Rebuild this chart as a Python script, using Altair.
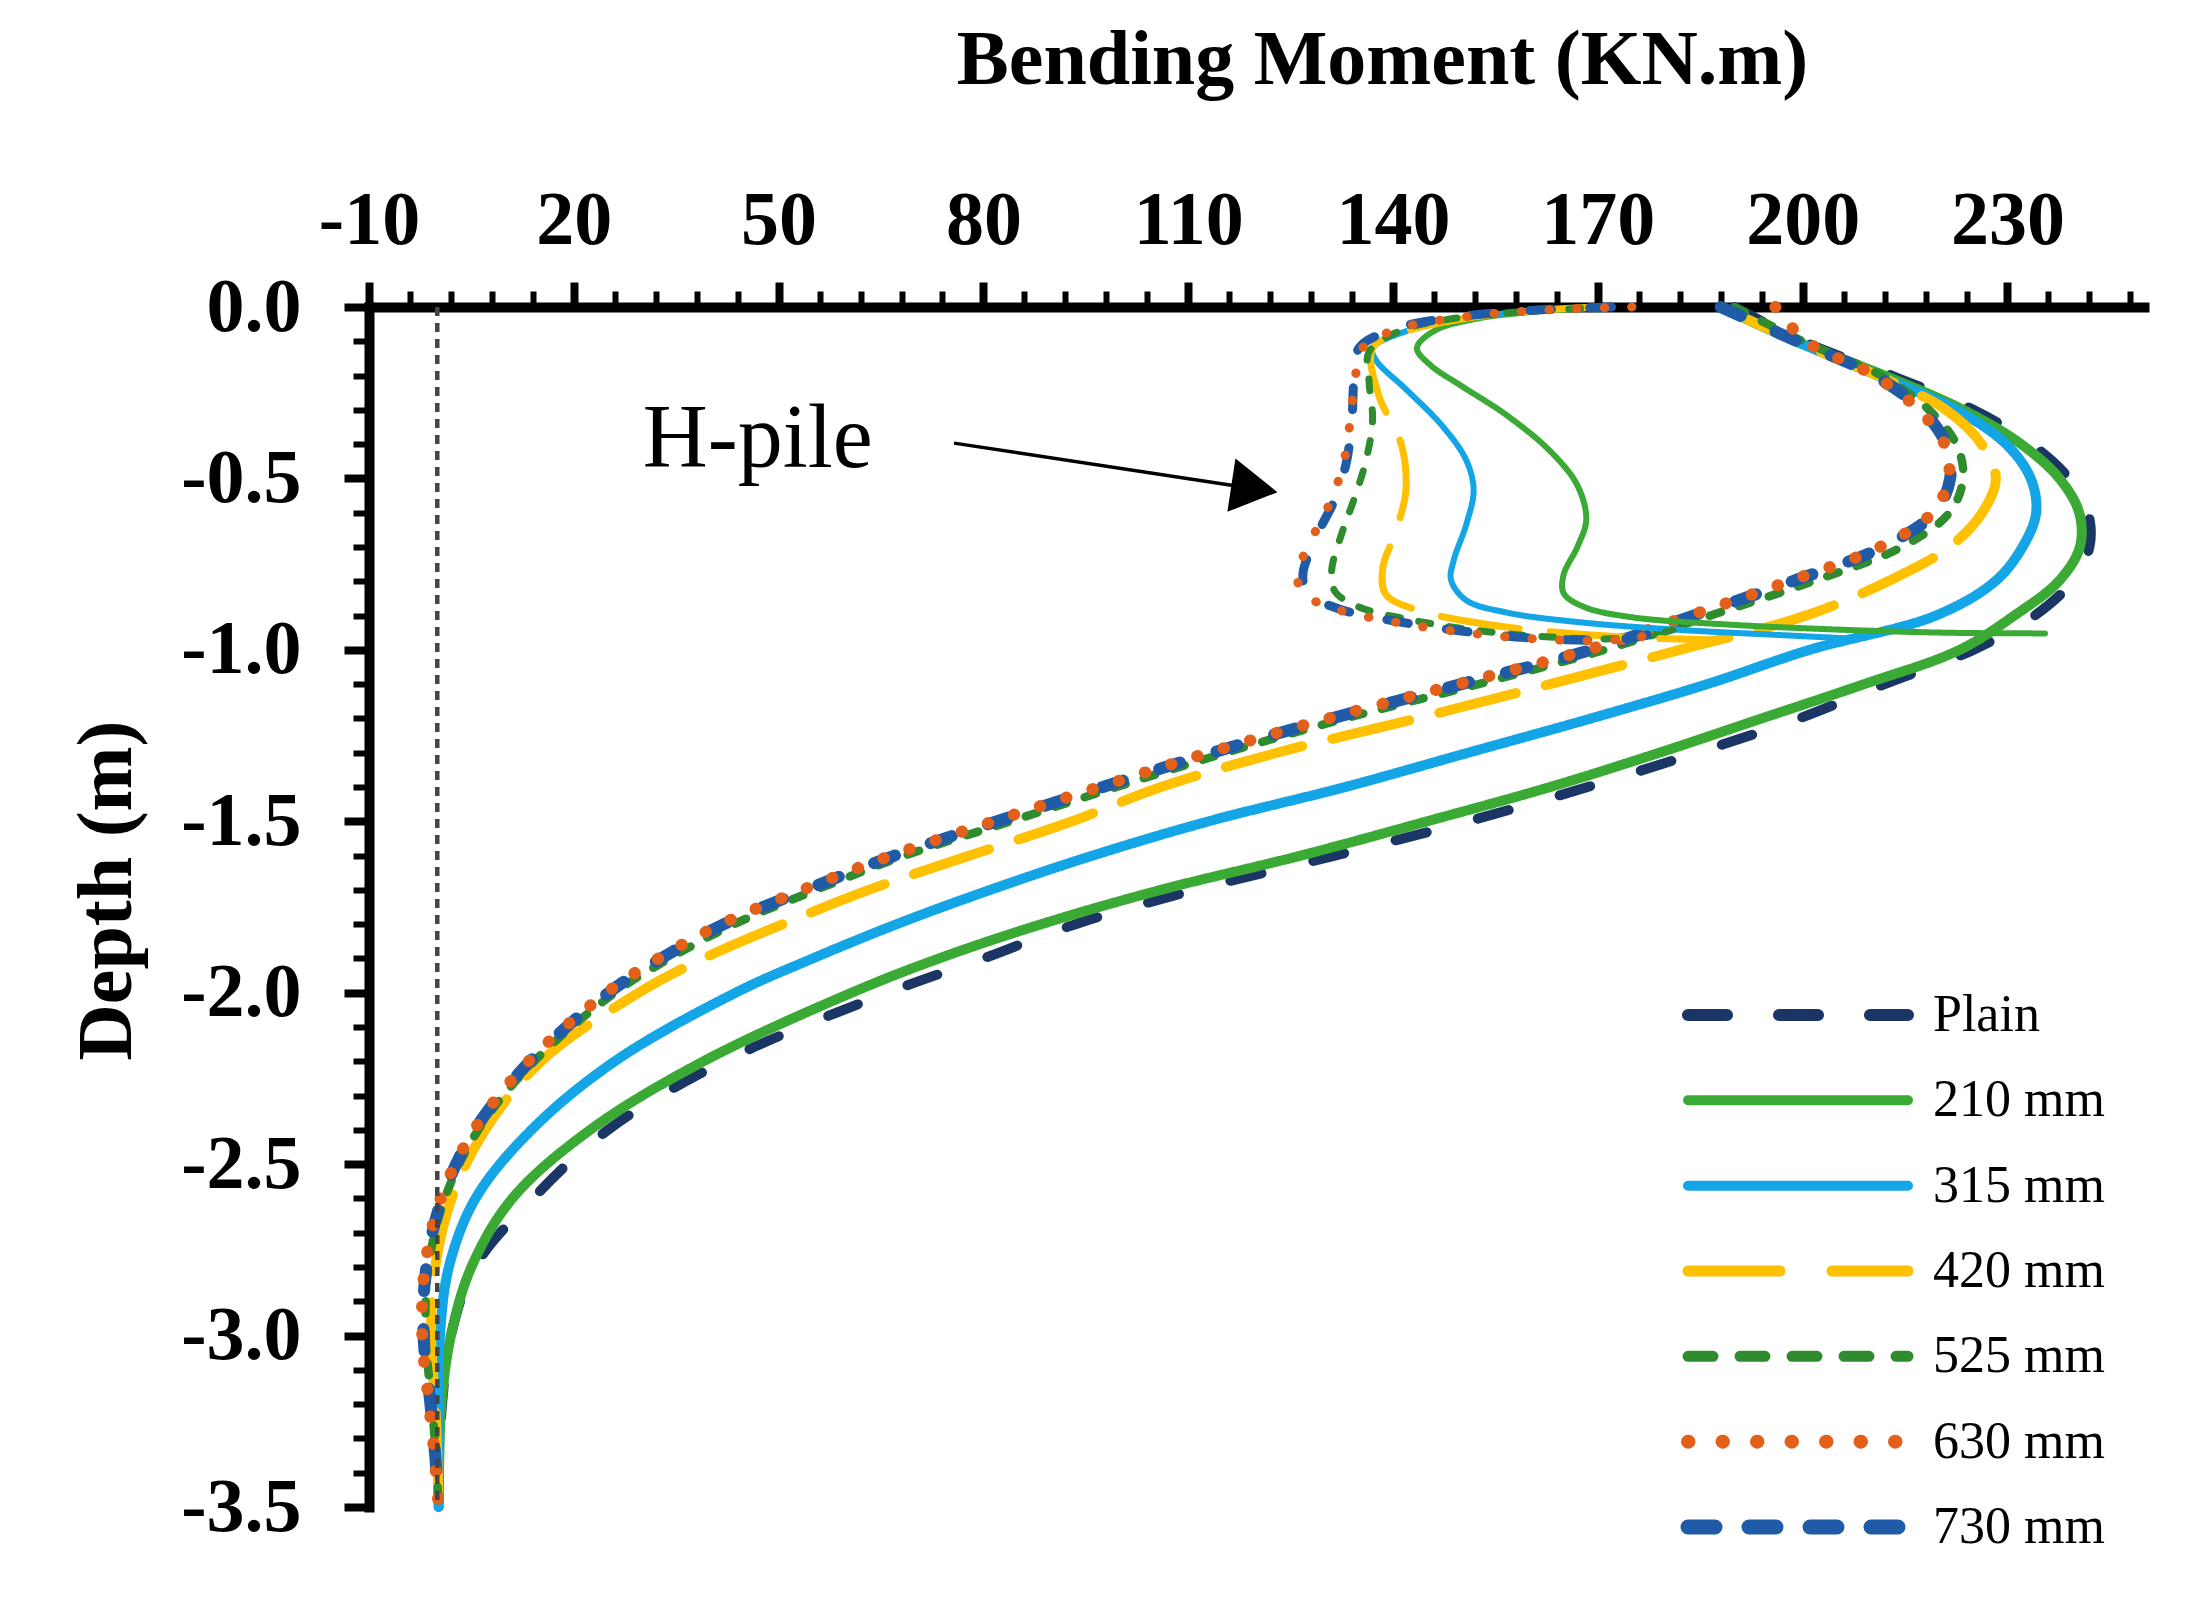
import json
import altair as alt
import pandas as pd

# ---------------- data ----------------
SERIES = ["Plain", "210 mm", "315 mm", "420 mm", "525 mm", "630 mm", "730 mm"]
DRAW_ORDER = ["Plain", "210 mm", "315 mm", "420 mm", "525 mm", "730 mm", "630 mm"]

# pile curves (moment read at common depths)
PILE_DEPTH = [0.0, -0.1, -0.2, -0.3, -0.4, -0.5, -0.6, -0.7, -0.8, -0.9, -1.0,
              -1.1, -1.2, -1.3, -1.4, -1.5, -1.6, -1.7, -1.8, -1.9, -2.0,
              -2.2, -2.4, -2.6, -2.8, -3.0, -3.2, -3.35, -3.5]
PILE_PLAIN = [190, 200, 213, 225, 233.5, 239, 241.8, 242, 239.5, 234, 225,
              212, 199.5, 184.5, 168.5, 151, 131.5, 111, 93.5, 80, 66,
              42, 25, 14, 5.5, 2, 0.7, 0.3, 0.2]
PILE_210 = [188, 199, 212, 223.5, 232, 237.6, 240.5, 240.6, 237.5, 231, 223,
            209, 194, 179, 163, 145, 126.5, 106, 88.5, 73.5, 60.7,
            39, 22.4, 11, 5, 2, 0.6, 0.3, 0.2]
PILE_315 = [188, 199, 211, 222.5, 229.8, 233.4, 234.2, 232.2, 228.2, 219.5, 201,
            186, 169, 151, 133, 113, 96, 81, 67.3, 55, 43.7,
            26, 13.8, 5.6, 1.7, 0.4, 0.2, 0.2, 0.2]
PILE_420 = [188, 199, 211, 221, 226.2, 228.3, 226.3, 221.5, 212.5, 200.5, 182,
            163, 143.5, 123, 106, 93, 78, 63.2, 50.6, 39, 29.5,
            15.2, 7, 2.1, -0.3, -0.9, -0.3, 0, 0.2]
PILE_525 = [190, 200, 211.5, 218.5, 222.5, 223.5, 221.5, 214.5, 201.5, 186.5, 171,
            152.5, 133, 115.5, 99.5, 84, 68.5, 55.5, 43.5, 34, 26,
            14.2, 6, 1.1, -1.3, -1.7, -0.8, -0.2, 0.2]
PILE_630 = [196, 200.5, 210.5, 217, 220.8, 221.4, 219, 211.3, 198, 183.5, 168.5,
            149.5, 130.5, 113, 97, 81.5, 66.5, 53.5, 41.6, 32.4, 24.8,
            13.4, 5.4, 0.5, -1.8, -2.2, -1.2, -0.4, 0.2]
PILE_730 = [188, 199.2, 210.5, 217.4, 221, 221.6, 219.3, 211.7, 198.5, 184, 169,
            150, 131, 113.5, 97.5, 82, 67, 54, 42, 32.8, 25.1,
            13.6, 5.5, 0.7, -1.6, -2.0, -1.0, -0.3, 0.2]

# H-pile loops (moment, depth pairs along the path)
HP_210_M = [172, 160, 152, 146, 143.5, 145.5, 150, 156.6, 163, 167, 168.3, 167, 165, 165, 168, 175, 188, 204, 221, 235.5]
HP_210_D = [0, -0.015, -0.035, -0.07, -0.12, -0.17, -0.23, -0.315, -0.42, -0.52, -0.62, -0.70, -0.78, -0.835, -0.875, -0.905, -0.925, -0.94, -0.95, -0.952]
HP_315_M = [172, 160, 150, 142, 137, 137.5, 142, 147.1, 150.7, 151.8, 150.7, 148.9, 148.5, 150.7, 156.6, 167.6, 182.2, 196.9, 208]
HP_315_D = [0, -0.012, -0.035, -0.07, -0.12, -0.155, -0.242, -0.344, -0.446, -0.534, -0.636, -0.738, -0.796, -0.855, -0.891, -0.92, -0.942, -0.957, -0.968]
HP_420_M = [170, 160, 150, 142, 137, 137.9, 141.2, 141.9, 140.5, 138.5, 139, 144.9, 152, 160.3, 174.9, 188]
HP_420_D = [0, -0.012, -0.035, -0.07, -0.12, -0.257, -0.40, -0.53, -0.65, -0.76, -0.84, -0.891, -0.92, -0.942, -0.964, -0.971]
HP_525_M = [172, 160, 149, 141, 136.5, 136.5, 137, 136, 134.3, 132.5, 131, 131.5, 135, 142, 151, 161, 171, 177, 181]
HP_525_D = [0, -0.012, -0.033, -0.07, -0.13, -0.22, -0.33, -0.45, -0.56, -0.66, -0.77, -0.83, -0.875, -0.91, -0.94, -0.96, -0.968, -0.96, -0.942]
HP_630_M = [175, 161, 150, 140.5, 135.5, 134.5, 133.8, 132.8, 131, 128.5, 126, 126.8, 131.5, 140, 150, 160, 170, 176, 180]
HP_630_D = [0, -0.01, -0.03, -0.065, -0.12, -0.2, -0.32, -0.45, -0.56, -0.66, -0.78, -0.835, -0.88, -0.918, -0.948, -0.967, -0.973, -0.963, -0.943]
HP_730_M = [172, 160, 149, 140, 135, 134.3, 134, 133.2, 131.5, 129, 126.8, 127.5, 132, 140, 150, 160, 170, 176, 180]
HP_730_D = [0, -0.01, -0.03, -0.065, -0.12, -0.2, -0.32, -0.45, -0.56, -0.66, -0.78, -0.835, -0.88, -0.915, -0.945, -0.965, -0.972, -0.962, -0.942]

# annotation
ANNOT_TEXT = ["H-pile"]
ANNOT_X = [30.1]
ANNOT_Y = [-0.467]
ARROW_X = [75.7, 119.7]
ARROW_Y = [-0.397, -0.530]
REF_X = [0.0]

# axis ticks
X_MAJOR = [-10, 20, 50, 80, 110, 140, 170, 200, 230]
X_MINOR = [-10 + 6 * i for i in range(44)]
Y_MAJOR = [0.0, -0.5, -1.0, -1.5, -2.0, -2.5, -3.0, -3.5]
Y_MINOR = [round(-0.1 * i, 2) for i in range(36)]

# styles
COLORS = ["#1B3664", "#3AAA35", "#14A5E6", "#FFC000", "#2E8B2E", "#E2601A", "#1F5BA6"]
DASHES = [[32, 53], [1, 0], [1, 0], [79, 31], [12, 19], [0.5, 27], [22, 38]]
PILE_WIDTHS = [10, 10, 10, 10, 8.5, 12, 12]
HP_WIDTHS = [6, 6, 6, 7, 7, 9, 9]
LEG_DASHES = [[39, 52], [1, 0], [1, 0], [92, 52], [25, 27], [0.5, 34], [27, 34]]
LEG_WIDTHS = [12, 10, 10, 11, 11, 14, 15]


def width_expr(widths):
    return f"{json.dumps(widths)}[indexof({json.dumps(SERIES)}, datum.series)]"


# ---------------- build tables ----------------
pile_sets = {"Plain": PILE_PLAIN, "210 mm": PILE_210, "315 mm": PILE_315, "420 mm": PILE_420,
             "525 mm": PILE_525, "630 mm": PILE_630, "730 mm": PILE_730}
hp_sets = {"210 mm": (HP_210_M, HP_210_D), "315 mm": (HP_315_M, HP_315_D),
           "420 mm": (HP_420_M, HP_420_D), "525 mm": (HP_525_M, HP_525_D),
           "630 mm": (HP_630_M, HP_630_D), "730 mm": (HP_730_M, HP_730_D)}
pile_rows, hp_rows = [], []
for s in DRAW_ORDER:
    for i, (m, d) in enumerate(zip(pile_sets[s], PILE_DEPTH)):
        pile_rows.append({"series": s, "idx": i, "moment": m, "depth": d})
    if s in hp_sets:
        ms, ds = hp_sets[s]
        for i, (m, d) in enumerate(zip(ms, ds)):
            hp_rows.append({"series": s, "idx": i, "moment": m, "depth": d})
df_pile = pd.DataFrame(pile_rows)
df_hp = pd.DataFrame(hp_rows)

FONT = "Liberation Serif"
XS = alt.Scale(domain=[-10, 250], nice=False, zero=False)
YS = alt.Scale(domain=[-3.5, 0], nice=False, zero=False)
color_scale = alt.Scale(domain=SERIES, range=COLORS)
dash_scale = alt.Scale(domain=SERIES, range=DASHES)

x_axis = alt.Axis(orient="top", values=X_MAJOR, grid=False,
                  title="Bending Moment (KN.m)", titleFont=FONT, titleFontSize=78,
                  titleFontWeight="bold", titleColor="black", titleX=1013, titleY=-224,
                  titleAlign="center", titleBaseline="alphabetic",
                  labelFont=FONT, labelFontSize=76, labelFontWeight="bold", labelColor="black",
                  labelPadding=39, labelBaseline="alphabetic", labelFlush=False, labelOverlap=False,
                  labelExpr="(datum.value < 0 ? '-' : '') + format(abs(datum.value), 'd')",
                  domainColor="black", domainWidth=10, domainCap="square",
                  tickColor="black", tickSize=25, tickWidth=8)
x_minor_axis = alt.Axis(orient="top", values=X_MINOR, grid=False, title=None, labels=False,
                        domain=False, tickColor="black", tickSize=16, tickWidth=6)
y_axis = alt.Axis(orient="left", values=Y_MAJOR, grid=False,
                  title="Depth (m)", titleFont=FONT, titleFontSize=78, titleFontWeight="bold",
                  titleColor="black", titleX=-262, titleY=583, titleAngle=270,
                  titleAlign="center", titleBaseline="middle",
                  labelFont=FONT, labelFontSize=76, labelFontWeight="bold", labelColor="black",
                  labelPadding=43, labelAlign="right", labelBaseline="middle",
                  labelFlush=False, labelOverlap=False,
                  labelExpr="(datum.value < 0 ? '-' : '') + format(abs(datum.value), '.1f')",
                  domainColor="black", domainWidth=10, domainCap="square",
                  tickColor="black", tickSize=25, tickWidth=8)
y_minor_axis = alt.Axis(orient="left", values=Y_MINOR, grid=False, title=None, labels=False,
                        domain=False, tickColor="black", tickSize=16, tickWidth=6)

pile_lines = alt.Chart(df_pile).transform_calculate(
    lw=width_expr(PILE_WIDTHS)).mark_line(interpolate="catmull-rom", strokeCap="round",
                                           strokeJoin="round").encode(
    x=alt.X("moment:Q", scale=XS, axis=x_axis),
    y=alt.Y("depth:Q", scale=YS, axis=y_axis),
    color=alt.Color("series:N", scale=color_scale, legend=None),
    strokeDash=alt.StrokeDash("series:N", scale=dash_scale, legend=None),
    strokeWidth=alt.StrokeWidth("lw:Q", scale=None, legend=None),
    order="idx:Q",
)

hp_lines = alt.Chart(df_hp).transform_calculate(
    lw=width_expr(HP_WIDTHS)).mark_line(interpolate="catmull-rom", strokeCap="round",
                                         strokeJoin="round").encode(
    x=alt.X("moment:Q", scale=XS, axis=None),
    y=alt.Y("depth:Q", scale=YS, axis=None),
    color=alt.Color("series:N", scale=color_scale, legend=None),
    strokeDash=alt.StrokeDash("series:N", scale=dash_scale, legend=None),
    strokeWidth=alt.StrokeWidth("lw:Q", scale=None, legend=None),
    order="idx:Q",
)

ref = alt.Chart(pd.DataFrame({"x": REF_X})).mark_rule(
    color="#444444", strokeDash=[9, 7], strokeWidth=4.5).encode(
    x=alt.X("x:Q", scale=XS, axis=x_minor_axis))

htext = alt.Chart(pd.DataFrame({"x": ANNOT_X, "y": ANNOT_Y, "label": ANNOT_TEXT})).mark_text(
    align="left", baseline="alphabetic", font=FONT, fontSize=90, color="black").encode(
    x=alt.X("x:Q", scale=XS, axis=None),
    y=alt.Y("y:Q", scale=YS, axis=y_minor_axis),
    text="label:N")

arrow = alt.Chart(pd.DataFrame({"x": [ARROW_X[0]], "y": [ARROW_Y[0]],
                                "x2": [ARROW_X[1]], "y2": [ARROW_Y[1]]})).mark_rule(
    color="black", strokeWidth=3.5).encode(
    x=alt.X("x:Q", scale=XS, axis=None), y=alt.Y("y:Q", scale=YS, axis=None),
    x2="x2:Q", y2="y2:Q")

head = alt.Chart(pd.DataFrame({"x": [ARROW_X[1]], "y": [ARROW_Y[1]]})).mark_point(
    shape="triangle-right", filled=True, size=2900, angle=8.6, color="black", opacity=1).encode(
    x=alt.X("x:Q", scale=XS, axis=None), y=alt.Y("y:Q", scale=YS, axis=None))

leg = pd.DataFrame({"series": SERIES})
leg_y = alt.Y("series:N", scale=alt.Scale(type="point", domain=SERIES, range=[708, 1220], padding=0),
              axis=None)
leg_rule = alt.Chart(leg).transform_calculate(lw=width_expr(LEG_WIDTHS)).mark_rule(
    strokeCap="round").encode(
    x=alt.value(1319), x2=alt.value(1539), y=leg_y,
    color=alt.Color("series:N", scale=color_scale, legend=None),
    strokeDash=alt.StrokeDash("series:N", scale=alt.Scale(domain=SERIES, range=LEG_DASHES),
                              legend=None),
    strokeWidth=alt.StrokeWidth("lw:Q", scale=None, legend=None))
leg_text = alt.Chart(leg).mark_text(align="left", baseline="middle", font=FONT, fontSize=52,
                                    color="black").encode(
    x=alt.value(1564), y=leg_y, text="series:N")

chart = alt.layer(pile_lines, hp_lines, ref, htext, arrow, head, leg_rule, leg_text).resolve_scale(
    y="independent", strokeDash="independent").resolve_axis(
    x="independent", y="independent").properties(
    width=1775, height=1200,
    autosize=alt.AutoSizeParams(type="none"),
    padding={"left": 361, "top": 299, "right": 40, "bottom": 70},
    background="white",
).configure_view(strokeWidth=0)

chart.save("out.html", embed_options={"renderer": "svg", "actions": False})
